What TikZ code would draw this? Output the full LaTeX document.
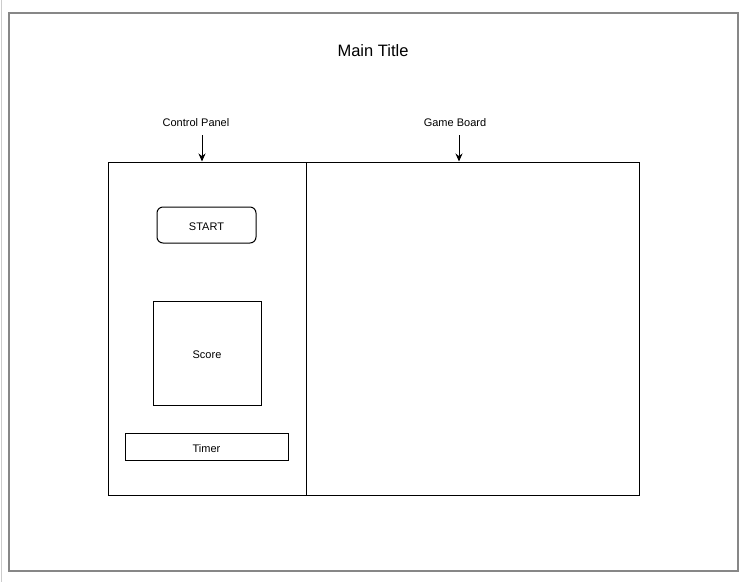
\documentclass[tikz,border=0pt]{standalone}
\usepackage{fontspec}
\setmainfont{Liberation Sans}
\usetikzlibrary{arrows.meta}
\begin{document}
\begin{tikzpicture}[x=1pt,y=-1pt,
  lbl/.style={font=\fontsize{11}{13}\selectfont,inner sep=0pt},
  frame/.style={draw=black,line width=1pt,inner sep=0pt,text depth=0pt,text height=11pt},
  conn/.style={draw=black,line width=1pt,-{Stealth[length=8pt,width=7pt]}}]
\useasboundingbox (0,0) rectangle (747,582);
\fill[white] (0,0) rectangle (747,582);
\draw[draw=black!20,line width=1pt] (1.5,0) -- (1.5,582);
\draw[draw=black!47,line width=2pt] (9,13) rectangle (738,571);
\node[font=\fontsize{16.5}{19}\selectfont,inner sep=0pt] (title) at (373,50.5) {Main Title};
\node[frame,minimum width=198pt,minimum height=333pt] (cp) at (207,328.5) {};
\node[frame,minimum width=333pt,minimum height=333pt] (gb) at (472.5,328.5) {};
\node[lbl] (cpl) at (196,122.5) {Control Panel};
\node[lbl] (gbl) at (455,122.5) {Game Board};
\coordinate (cpa) at (202,135);
\coordinate (gba) at (459,135);
\draw[conn] (cpa) -- (cpa |- cp.north);
\draw[conn] (gba) -- (gba |- gb.north);
\node[frame,lbl,rounded corners=6pt,minimum width=99pt,minimum height=36pt] (start) at (206.5,225) {START};
\node[frame,lbl,minimum width=108pt,minimum height=104pt] (score) at (207,353) {Score};
\node[frame,lbl,minimum width=163pt,minimum height=27pt] (timer) at (206.5,446.5) {Timer};
\end{tikzpicture}
\end{document}
